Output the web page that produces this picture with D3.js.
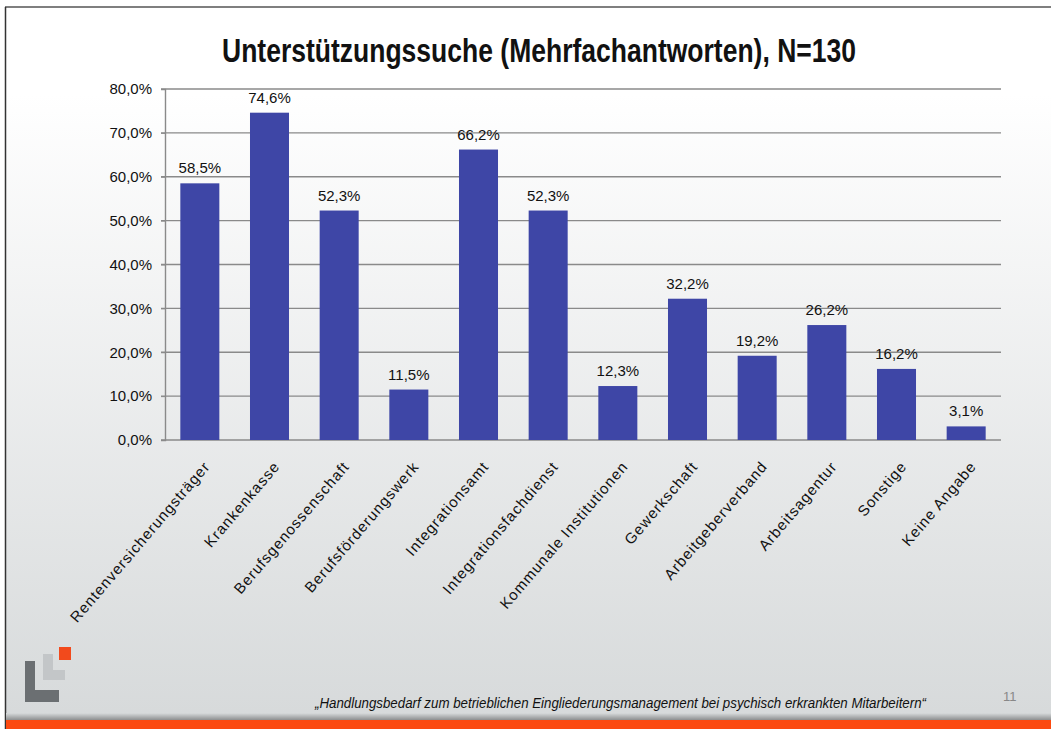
<!DOCTYPE html>
<html>
<head>
<meta charset="utf-8">
<script src="https://cdn.jsdelivr.net/npm/d3@7"></script>
<style>
  html, body { margin: 0; padding: 0; background: #fff; }
  svg { display: block; font-family: "Liberation Sans", Arial, sans-serif; }
</style>
</head>
<body>
<div id="chart"></div>
<script>
// Data
const categories = [
  'Rentenversicherungsträger', 'Krankenkasse', 'Berufsgenossenschaft', 'Berufsförderungswerk',
  'Integrationsamt', 'Integrationsfachdienst', 'Kommunale Institutionen', 'Gewerkschaft',
  'Arbeitgeberverband', 'Arbeitsagentur', 'Sonstige', 'Keine Angabe'
];
const values = [58.5, 74.6, 52.3, 11.5, 66.2, 52.3, 12.3, 32.2, 19.2, 26.2, 16.2, 3.1];
const yTicks = [0, 10, 20, 30, 40, 50, 60, 70, 80];
const title = 'Unterstützungssuche (Mehrfachantworten), N=130';
const footer = '„Handlungsbedarf zum betrieblichen Eingliederungsmanagement bei psychisch erkrankten Mitarbeitern“';
const pageNumber = '11';

const width = 1051, height = 729;
const fmt = v => v.toFixed(1).replace('.', ',') + '%';

const svg = d3.select('#chart').append('svg')
  .attr('width', width)
  .attr('height', height);

// Slide background
const defs = svg.append('defs');
const bg = defs.append('linearGradient').attr('id', 'bg').attr('x1', 0).attr('y1', 0).attr('x2', 0).attr('y2', 1);
bg.append('stop').attr('offset', '0.12').attr('stop-color', '#ffffff');
bg.append('stop').attr('offset', '1').attr('stop-color', '#d6d9da');
const sh = defs.append('linearGradient').attr('id', 'shadow').attr('x1', 0).attr('y1', 0).attr('x2', 0).attr('y2', 1);
sh.append('stop').attr('offset', '0').attr('stop-color', '#d8dbdc');
sh.append('stop').attr('offset', '1').attr('stop-color', '#8d8f90');

svg.append('rect').attr('x', 0).attr('y', 0).attr('width', width).attr('height', height).attr('fill', '#fff');
svg.append('rect').attr('x', 6).attr('y', 7).attr('width', width - 6).attr('height', height - 7).attr('fill', 'url(#bg)');

// Frame lines
svg.append('line').attr('x1', 5).attr('x2', width).attr('y1', 7).attr('y2', 7)
  .attr('stroke', '#555').attr('stroke-width', 1.5);
svg.append('line').attr('x1', 5.5).attr('x2', 5.5).attr('y1', 7).attr('y2', height)
  .attr('stroke', '#333').attr('stroke-width', 1.5);

// Bottom bar
svg.append('rect').attr('x', 6).attr('y', 713).attr('width', width - 6).attr('height', 7).attr('fill', 'url(#shadow)');
svg.append('rect').attr('x', 6).attr('y', 720).attr('width', width - 6).attr('height', 9).attr('fill', '#fc4a10');

// Title
svg.append('text')
  .attr('x', 222).attr('y', 62)
  .attr('textLength', 634).attr('lengthAdjust', 'spacingAndGlyphs')
  .style('font-size', '33px').style('font-weight', 'bold').attr('fill', '#111')
  .text(title);

// Scales
const plot = { left: 165, right: 1001, top: 89, bottom: 440 };
const x = d3.scaleBand().domain(categories).range([plot.left, plot.right])
  .paddingInner(0.44).paddingOuter(0.22);
const y = d3.scaleLinear().domain([0, 80]).range([plot.bottom, plot.top]);

// Grid
svg.append('g').selectAll('line').data(yTicks).join('line')
  .attr('x1', plot.left - 4).attr('x2', plot.right)
  .attr('y1', d => y(d)).attr('y2', d => y(d))
  .attr('stroke', '#8a8a8a').attr('stroke-width', 1.4);

// Y axis
const yAxis = svg.append('g').attr('transform', `translate(${plot.left},0)`)
  .call(d3.axisLeft(y).tickValues(yTicks).tickFormat(d => fmt(d)).tickSize(4).tickPadding(9));
yAxis.select('.domain').attr('stroke', '#8a8a8a').attr('stroke-width', 1.4);
yAxis.selectAll('.tick line').attr('stroke', '#8a8a8a');
yAxis.selectAll('text').style('font-size', '15px').attr('fill', '#111');

// Bars
svg.append('g').selectAll('rect').data(values).join('rect')
  .attr('x', (d, i) => x(categories[i]))
  .attr('y', d => y(d))
  .attr('width', x.bandwidth())
  .attr('height', d => y(0) - y(d))
  .attr('fill', '#3e46a6');

// Value labels
svg.append('g').selectAll('text').data(values).join('text')
  .attr('x', (d, i) => x(categories[i]) + x.bandwidth() / 2)
  .attr('y', d => y(d) - 10)
  .attr('text-anchor', 'middle')
  .style('font-size', '15px').attr('fill', '#111')
  .text(d => fmt(d));

// Category labels
svg.append('g').selectAll('text').data(categories).join('text')
  .attr('transform', d => `translate(${x(d) + x.bandwidth() / 2 + 11},467) rotate(-49.5)`)
  .attr('text-anchor', 'end')
  .style('font-size', '15px').style('letter-spacing', '1px').attr('fill', '#111')
  .text(d => d);

// Logo
const logo = svg.append('g');
logo.append('rect').attr('x', 43).attr('y', 654).attr('width', 10).attr('height', 26).attr('fill', '#c3c6c8');
logo.append('rect').attr('x', 43).attr('y', 670).attr('width', 22).attr('height', 10).attr('fill', '#c3c6c8');
logo.append('rect').attr('x', 25).attr('y', 661).attr('width', 10).attr('height', 41).attr('fill', '#6b6f72');
logo.append('rect').attr('x', 25).attr('y', 690).attr('width', 34).attr('height', 12).attr('fill', '#6b6f72');
logo.append('rect').attr('x', 59).attr('y', 647).attr('width', 12).attr('height', 13).attr('fill', '#f24a1c');

// Footer
svg.append('text')
  .attr('x', 315).attr('y', 708)
  .attr('textLength', 611).attr('lengthAdjust', 'spacingAndGlyphs')
  .style('font-size', '14px').style('font-style', 'italic').attr('fill', '#111')
  .text(footer);
svg.append('text')
  .attr('x', 1003).attr('y', 701)
  .style('font-size', '13px').attr('fill', '#888')
  .text(pageNumber);
</script>
</body>
</html>
